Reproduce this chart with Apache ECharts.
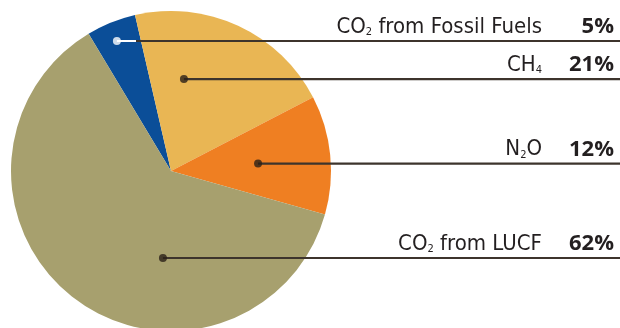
<!DOCTYPE html>
<html>
<head>
<meta charset="utf-8">
<script src="https://cdn.jsdelivr.net/npm/echarts@6/dist/echarts.min.js"></script>
<style>
  html, body { margin: 0; padding: 0; background: #ffffff; }
  #chart { width: 620px; height: 328px; }
</style>
</head>
<body>
<div id="chart"></div>
<script>
// Greenhouse gas categories, clockwise from the small fossil-fuel wedge
const gases = ['CO2 from Fossil Fuels', 'CH4', 'N2O', 'CO2 from LUCF'];
// Share of total emissions, percent
const shares = [5, 21, 12, 62];

// Slice colours
const sliceColors = ['#0b4e98', '#e9b654', '#ef7f22', '#a7a06e'];
// Where each leader line starts inside its slice: [radius fraction, degrees clockwise from 12 o'clock]
const leaderAnchors = [[0.88, 337.4], [0.58, 8], [0.546, 85.1], [0.546, 185.3]];
// Dot colour at the start of each leader line
const dotColors = ['#ffffff', '#2b2118', '#2b2118', '#2b2118'];

const CX = 171, CY = 171, R = 160;
const LABEL_RIGHT = 614, LINE_END = 620;
const LINE_COLOR = '#3d342c';
const NAME_FONT = "'DejaVu Sans Condensed', sans-serif";

// Turns "CO2 from LUCF" into rich text with a subscript digit
function formulaRich(name) {
  const m = name.match(/^(\D+?)(\d)(.*)$/);
  if (!m) return '{n|' + name + '}';
  return '{n|' + m[1] + '}{s|' + m[2] + '}' + (m[3] ? '{n|' + m[3] + '}' : '');
}

function anchorPoint(i) {
  const f = leaderAnchors[i][0];
  const a = leaderAnchors[i][1] * Math.PI / 180;
  return [CX + R * f * Math.sin(a), CY - R * f * Math.cos(a)];
}

// Leader line for the fossil-fuel wedge runs white across the blue, then dark
function fossilLineColor() {
  const p = anchorPoint(0);
  const edge = (136 - p[0]) / (LINE_END - p[0]);
  return {
    type: 'linear', x: p[0], y: 0, x2: LINE_END, y2: 0, global: true,
    colorStops: [
      { offset: 0, color: '#ffffff' },
      { offset: edge, color: '#ffffff' },
      { offset: edge + 0.001, color: LINE_COLOR },
      { offset: 1, color: LINE_COLOR }
    ]
  };
}

const pieBase = {
  type: 'pie',
  center: [CX, CY],
  radius: R,
  startAngle: 121,
  clockwise: true,
  avoidLabelOverlap: false,
  silent: true
};

const chart = echarts.init(document.getElementById('chart'), null, { renderer: 'canvas' });

chart.setOption({
  animation: false,
  backgroundColor: '#ffffff',
  polar: { center: [CX, CY], radius: R },
  angleAxis: { type: 'value', min: 0, max: 360, startAngle: 90, clockwise: true, show: false },
  radiusAxis: { type: 'value', min: 0, max: 1, show: false },
  series: [
    // the coloured wedges
    Object.assign({}, pieBase, {
      z: 2,
      itemStyle: { borderWidth: 0 },
      label: { show: false },
      labelLine: { show: false },
      data: gases.map(function (g, i) {
        return { name: g, value: shares[i], itemStyle: { color: sliceColors[i] } };
      })
    }),
    // same shares again, transparent, carrying the labels and leader lines above the wedges
    Object.assign({}, pieBase, {
      z: 4,
      itemStyle: { color: 'rgba(0,0,0,0)', borderWidth: 0 },
      data: gases.map(function (g, i) {
        const item = { name: g, value: shares[i] };
        if (i === 0) item.labelLine = { lineStyle: { color: fossilLineColor() } };
        return item;
      }),
      label: {
        show: true,
        position: 'outside',
        formatter: function (p) {
          return formulaRich(p.name) + '{p|' + p.value + '%}';
        },
        rich: {
          n: { fontFamily: NAME_FONT, fontSize: 22, color: '#231f20', lineHeight: 28, verticalAlign: 'bottom' },
          s: { fontFamily: NAME_FONT, fontSize: 11, color: '#231f20', lineHeight: 10, verticalAlign: 'bottom' },
          p: { fontFamily: "'Open Sans'", fontWeight: 'bold', fontSize: 22, color: '#231f20', lineHeight: 28, verticalAlign: 'bottom', width: 72, align: 'right' }
        }
      },
      labelLine: {
        show: true,
        lineStyle: { color: LINE_COLOR, width: 2.2 }
      },
      labelLayout: function (params) {
        const p = anchorPoint(params.dataIndex);
        return {
          x: LABEL_RIGHT,
          y: p[1] - 3,
          align: 'right',
          verticalAlign: 'bottom',
          labelLinePoints: [[p[0], p[1]], [p[0] + 1, p[1]], [LINE_END, p[1]]]
        };
      }
    }),
    {
      type: 'scatter',
      coordinateSystem: 'polar',
      silent: true,
      z: 6,
      symbol: 'circle',
      symbolSize: 8,
      data: leaderAnchors.map(function (a, i) {
        return { value: [a[0], a[1]], itemStyle: { color: dotColors[i] } };
      })
    }
  ]
});
</script>
</body>
</html>
